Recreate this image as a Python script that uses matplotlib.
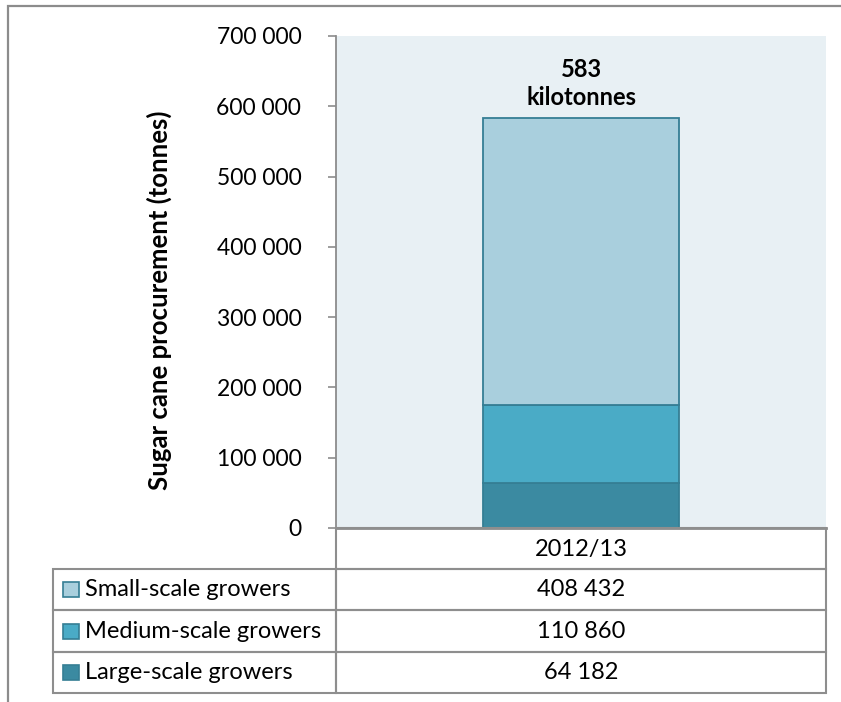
import matplotlib.pyplot as plt
from matplotlib.patches import Rectangle
from matplotlib.ticker import FuncFormatter

# data
season = "2012/13"
groups = ["Small-scale growers", "Medium-scale growers", "Large-scale growers"]
tonnes = [408432, 110860, 64182]
colors = ["#A9CFDD", "#4AABC6", "#3B8AA1"]
yticks = [0, 100000, 200000, 300000, 400000, 500000, 600000, 700000]

plt.rcParams["font.family"] = ["Lato", "DejaVu Sans"]

W, H = 841, 702
fig = plt.figure(figsize=(W / 100, H / 100), dpi=100)


def fx(px):
    return px / W


def fy(py):
    return 1 - py / H


def spaced(v):
    return f"{int(v):,}".replace(",", " ")


# plot area (pixel positions of the reference)
left, right, top, bottom = 336, 826, 36, 528
ax = fig.add_axes([fx(left), fy(bottom), fx(right - left), (bottom - top) / H])
ax.set_facecolor("#E8F0F4")

# stack bottom -> top: large, medium, small
base = 0
for name, val, col in reversed(list(zip(groups, tonnes, colors))):
    ax.bar(0, val, bottom=base, width=0.4, color=col, edgecolor="#357E94", linewidth=1.3)
    base += val

total = sum(tonnes)
ax.text(0, total + 12000, f"{round(total / 1000)}\nkilotonnes", ha="center", va="bottom",
        fontsize=17, fontweight="bold", linespacing=1.3)

ax.set_xlim(-0.5, 0.5)
ax.set_ylim(0, 700000)
ax.set_yticks(yticks)
ax.yaxis.set_major_formatter(FuncFormatter(lambda v, p: spaced(v)))
ax.tick_params(axis="y", length=6, width=1.2, color="#8C8C8C", pad=19, labelsize=16.5)
ax.set_xticks([])
for s in ["top", "right"]:
    ax.spines[s].set_visible(False)
ax.spines["left"].set_color("#8C8C8C")
ax.spines["bottom"].set_color("#8C8C8C")
ax.spines["left"].set_linewidth(1.3)
ax.spines["bottom"].set_linewidth(2)
ax.set_ylabel("Sugar cane procurement (tonnes)", fontsize=18.5, fontweight="bold")
ax.yaxis.set_label_coords(-(left - 172) / (right - left), (bottom - 300) / (bottom - top))

# data table, drawn in pixel coordinates
tl, tt, hb, tb = 53, 528, 569, 693
tab = fig.add_axes([fx(tl), fy(tb), fx(right - tl), (tb - tt) / H])
tab.set_xlim(tl, right)
tab.set_ylim(tb, tt)
tab.axis("off")
lc = "#8E8E8E"
lw = 1.5
row_h = (tb - hb) / 3
mid = (left + right) / 2

tab.add_patch(Rectangle((left, tt), right - left, hb - tt, fill=False, edgecolor=lc, lw=lw,
                        clip_on=False))
tab.text(mid, (tt + hb) / 2 + 1, season, ha="center", va="center", fontsize=17)
for i, (name, val, col) in enumerate(zip(groups, tonnes, colors)):
    y0 = hb + i * row_h
    yc = y0 + row_h / 2
    tab.add_patch(Rectangle((tl, y0), left - tl, row_h, fill=False, edgecolor=lc, lw=lw,
                            clip_on=False))
    tab.add_patch(Rectangle((left, y0), right - left, row_h, fill=False, edgecolor=lc, lw=lw,
                            clip_on=False))
    tab.add_patch(Rectangle((tl + 10, yc - 7.5), 16, 15, facecolor=col,
                            edgecolor="#357E94", lw=1.2))
    tab.text(tl + 32, yc, name, ha="left", va="center", fontsize=17)
    tab.text(mid, yc, spaced(val), ha="center", va="center", fontsize=17)

# outer chart frame (cut by the image edges)
fig.add_artist(Rectangle((fx(8), fy(H + 20)), fx(W + 20), (H + 14.5) / H, fill=False,
                         edgecolor="#8C8C8C", lw=1.6, transform=fig.transFigure))

fig.savefig("out.png", dpi=100)
